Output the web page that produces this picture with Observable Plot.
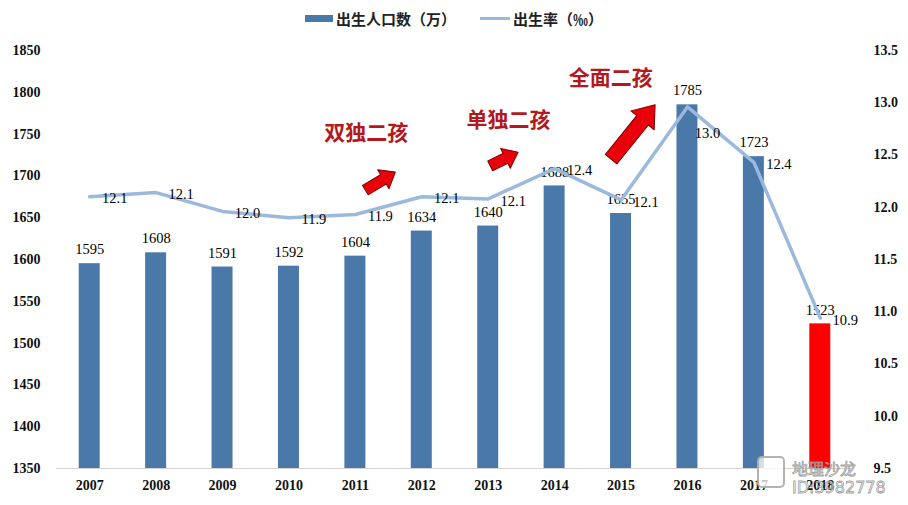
<!DOCTYPE html>
<html>
<head>
<meta charset="utf-8">
<script src="https://cdn.jsdelivr.net/npm/d3@7"></script>
<script src="https://cdn.jsdelivr.net/npm/@observablehq/plot@0.6"></script>
<style>
  html, body { margin: 0; padding: 0; background: #fff; }
  #wrap { position: relative; width: 908px; height: 505px; overflow: hidden; }
  #legend { height: 36px; display: flex; justify-content: center; align-items: center; gap: 0; font-family: "Noto Sans CJK SC", sans-serif; font-weight: 700; font-size: 15px; color: #222; }
  .item { display: flex; align-items: center; }
  .sw-bar { width: 28px; height: 7px; background: #4a78a8; margin-right: 3px; }
  .sw-line { width: 30px; height: 3px; background: #9bb9dc; margin-right: 3px; }
  #wm { position: absolute; left: 757px; top: 452px; pointer-events: none; }
  #wm .icon { position: absolute; left: 0; top: 4px; width: 24px; height: 28px; border: 2px solid rgba(160,160,160,0.8); border-radius: 5px; background: rgba(255,255,255,0.75); }
  #wm .t1 { position: absolute; left: 35px; top: 4px; font-family: "Noto Sans CJK SC", sans-serif; font-size: 16px; color: rgba(255,255,255,0.6); -webkit-text-stroke: 0.8px rgba(140,140,140,0.85); white-space: nowrap; }
  #wm .t2 { position: absolute; left: 35px; top: 26px; font-family: "DejaVu Sans", sans-serif; font-size: 16px; color: rgba(255,255,255,0.6); -webkit-text-stroke: 0.8px rgba(140,140,140,0.85); white-space: nowrap; }
</style>
</head>
<body>
<div id="wrap">
  <div id="legend">
    <div class="item"><div class="sw-bar"></div><span>出生人口数（万）</span></div>
    <div class="item" style="margin-left:24px"><div class="sw-line"></div><span>出生率（‰）</span></div>
  </div>
  <div id="chart"></div>
  <div id="wm"><div class="icon"></div><div class="t1">地理沙龙</div><div class="t2">ID:3982778</div></div>
</div>
<script>
// ---- data ----
const years  = [2007, 2008, 2009, 2010, 2011, 2012, 2013, 2014, 2015, 2016, 2017, 2018];
const births = [1595, 1608, 1591, 1592, 1604, 1634, 1640, 1688, 1655, 1785, 1723, 1523]; // 万
const rates  = [12.10, 12.14, 11.96, 11.90, 11.93, 12.10, 12.08, 12.37, 12.07, 12.96, 12.43, 10.94]; // ‰
const leftTicks  = [1350, 1400, 1450, 1500, 1550, 1600, 1650, 1700, 1750, 1800, 1850];
const rightTicks = [9.5, 10.0, 10.5, 11.0, 11.5, 12.0, 12.5, 13.0, 13.5];
const policyNames  = ["双独二孩", "单独二孩", "全面二孩"];
const policyYear   = [2011.12, 2013.26, 2014.80];
const policyLevel  = [1751, 1766, 1817];
const arrowYear    = [2011.15, 2013.03, 2014.85];
const arrowLevel   = [1683, 1712, 1720];
const arrowAngle   = [59, 64, 39];
const arrowLen     = [35, 31, 70];

// ---- helpers ----
const yMin = 1350, yMax = 1850, rMin = 9.5, rMax = 13.5;
const rateToY = r => yMin + (r - rMin) * (yMax - yMin) / (rMax - rMin);
const yToRate = y => rMin + (y - yMin) * (rMax - rMin) / (yMax - yMin);

const data = years.map((y, i) => ({year: y, births: births[i], rate: rates[i], last: i === years.length - 1}));
const policies = policyNames.map((n, i) => ({name: n, year: policyYear[i], level: policyLevel[i]}));
const arrows = arrowYear.map((x, i) => ({year: x, level: arrowLevel[i], angle: arrowAngle[i], len: arrowLen[i]}));

const blockArrow = {
  draw(ctx, l) {
    const big = l > 50;
    const bw = big ? 7.5 : 5.5, hw = big ? 15 : 11, hl = big ? 20 : 14;
    ctx.moveTo(-bw, 0);
    ctx.lineTo(-bw, -l + hl);
    ctx.lineTo(-hw, -l + hl);
    ctx.lineTo(0, -l);
    ctx.lineTo(hw, -l + hl);
    ctx.lineTo(bw, -l + hl);
    ctx.lineTo(bw, 0);
    ctx.closePath();
  }
};

const half = 0.158;
const serif = "'Liberation Serif', 'Times New Roman', serif";

const chart = Plot.plot({
  width: 908,
  height: 469,
  marginLeft: 56,
  marginRight: 55,
  marginTop: 14,
  marginBottom: 37,
  style: {fontFamily: serif, fontSize: "14px", background: "#fff", color: "#111"},
  x: {domain: [2006.5, 2018.5], axis: null},
  y: {domain: [yMin, yMax], axis: null},
  length: {type: "identity"},
  marks: [
    Plot.ruleY([yMin], {stroke: "#d4d4d4", strokeWidth: 1.2}),
    Plot.rect(data, {
      x1: d => d.year - half, x2: d => d.year + half,
      y1: yMin, y2: "births",
      fill: d => d.last ? "#ff0000" : "#4a78a8"
    }),
    Plot.text(data, {x: "year", y: "births", text: d => String(d.births), dy: -14, fontSize: 14.5, fill: "#000"}),
    Plot.line(data, {x: "year", y: d => rateToY(d.rate), stroke: "#9bb9dc", strokeWidth: 3.5, strokeLinejoin: "round"}),
    Plot.text(data.filter(d => d.year !== 2016), {x: "year", y: d => rateToY(d.rate), text: d => d.rate.toFixed(1), dx: 25, dy: 2, fontSize: 14.5, fill: "#000"}),
    Plot.text(data.filter(d => d.year === 2016), {x: "year", y: d => rateToY(d.rate), text: d => d.rate.toFixed(1), dx: 20, dy: 26, fontSize: 14.5, fill: "#000"}),
    Plot.vector(arrows, {x: "year", y: "level", rotate: "angle", length: "len", anchor: "start", shape: blockArrow, fill: "#e8000b", stroke: "#7a0000", strokeWidth: 1}),
    Plot.text(policies, {x: "year", y: "level", text: "name", fontFamily: "'Noto Sans CJK SC', sans-serif", fontWeight: 700, fontSize: 21, fill: "#b3191c", letterSpacing: "7px", dx: 3}),
    Plot.axisY(leftTicks, {anchor: "left", tickSize: 0, tickPadding: 16, label: null, fontWeight: "bold", tickFormat: d => String(d)}),
    Plot.axisY(rightTicks.map(rateToY), {anchor: "right", tickSize: 0, tickPadding: 20, label: null, fontWeight: "bold", tickFormat: v => yToRate(v).toFixed(1)}),
    Plot.axisX(years, {anchor: "bottom", tickSize: 0, tickPadding: 12, label: null, fontWeight: "bold", tickFormat: d => String(d)})
  ]
});
document.getElementById("chart").appendChild(chart);
</script>
</body>
</html>
